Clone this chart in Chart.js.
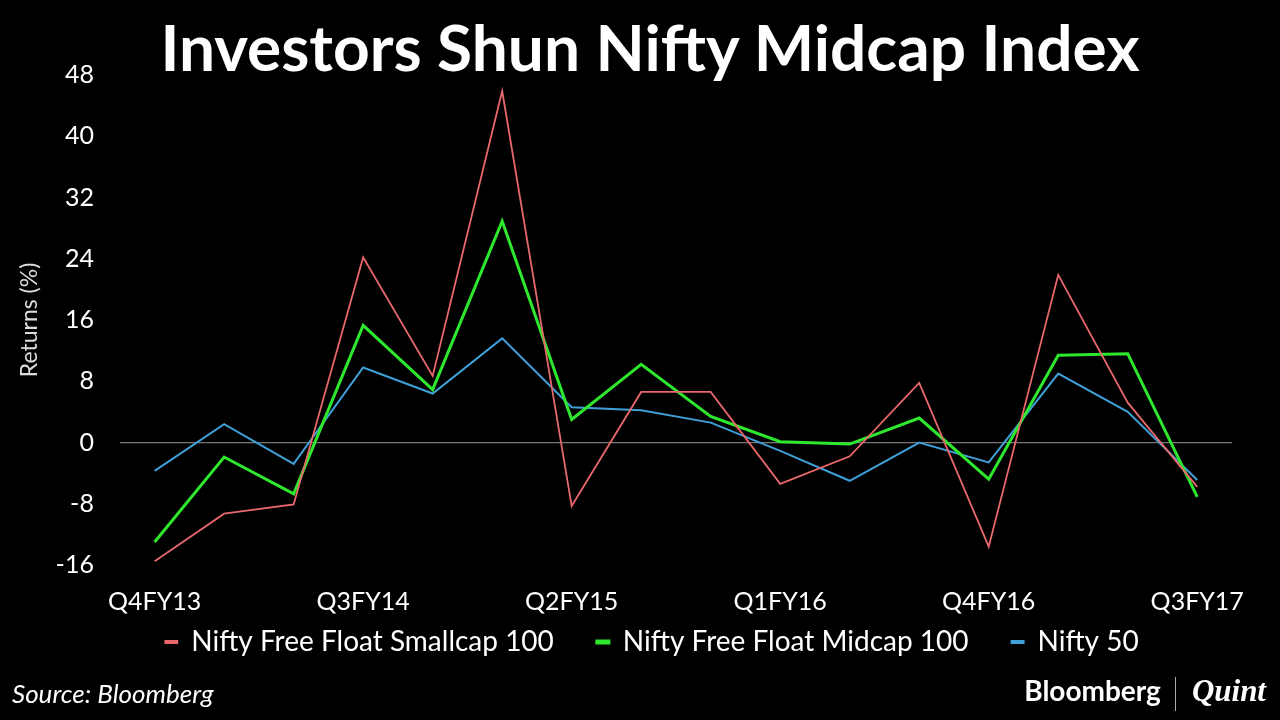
<!DOCTYPE html>
<html>
<head>
<meta charset="utf-8">
<script src="https://cdn.jsdelivr.net/npm/chart.js@4/dist/chart.umd.min.js"></script>
<style>
  body { margin: 0; background: #000; }
  #wrap { position: relative; width: 1280px; height: 720px; background: #000; }
  #returns-chart { position: absolute; left: 0; top: 0; }
  #title { position: absolute; left: 20px; width: 1260px; top: 8px; text-align: center; color: #fff;
           font: bold 64px Lato, sans-serif; line-height: 78px; }
  #source { position: absolute; left: 12px; top: 677px; color: #fff; font: italic 26px Lato, sans-serif; }
  #brand { position: absolute; right: 14px; top: 673px; color: #fff; font: bold 28px Lato, sans-serif; }
  #brand .sep { display: inline-block; width: 1px; height: 34px; background: #aaa; margin: 0 16px 0 14px; vertical-align: middle; }
  #brand .q { font: italic bold 31px "Liberation Serif", serif; }
</style>
</head>
<body>
<div id="wrap">
  <canvas id="returns-chart" width="1280" height="720"></canvas>
  <div id="title">Investors Shun Nifty Midcap Index</div>
  <div id="source">Source: Bloomberg</div>
  <div id="brand">Bloomberg<span class="sep"></span><span class="q">Quint</span></div>
</div>
<script>
const quarters = ["Q4FY13","Q1FY14","Q2FY14","Q3FY14","Q4FY14","Q1FY15","Q2FY15","Q3FY15",
                  "Q4FY15","Q1FY16","Q2FY16","Q3FY16","Q4FY16","Q1FY17","Q2FY17","Q3FY17"];
const smallcap = [-15.5,-9.3,-8.1,24.2,8.7,45.9,-8.3,6.6,6.6,-5.4,-1.8,7.8,-13.6,21.9,5.2,-5.8];
const midcap   = [-13.0,-1.9,-6.7,15.3,6.9,28.9,3.0,10.2,3.4,0.1,-0.2,3.2,-4.8,11.4,11.6,-7.1];
const nifty50  = [-3.7,2.4,-2.8,9.8,6.4,13.6,4.6,4.2,2.6,-1.1,-5.0,0.0,-2.6,9.0,4.0,-4.9];
const yTicks = [-16,-8,0,8,16,24,32,40,48];

// nudge the legend a little right, it is centred on the plot in the original
const legendShift = {
  id: 'legendShift',
  afterLayout(chart) { chart.legend.left += 56; }
};

const ctx = document.getElementById('returns-chart').getContext('2d');

const returnsChart = new Chart(ctx, {
  type: 'line',
  data: {
    labels: quarters,
    datasets: [{
      label: "Nifty Free Float Smallcap 100",
      data: smallcap,
      borderColor: '#e8686c',
      backgroundColor: '#e8686c',
      borderWidth: 1.8,
      pointRadius: 0,
      tension: 0
    },
    {
      label: "Nifty Free Float Midcap 100",
      data: midcap,
      borderColor: '#2ee82e',
      backgroundColor: '#2ee82e',
      borderWidth: 3,
      pointRadius: 0,
      tension: 0
    },
    {
      label: "Nifty 50",
      data: nifty50,
      borderColor: '#3f9fd6',
      backgroundColor: '#3f9fd6',
      borderWidth: 2,
      pointRadius: 0,
      tension: 0
    }]
  },
  options: {
    responsive: false,
    animation: false,
    layout: { padding: { left: 16, right: 48, top: 75, bottom: 54 } },
    scales: {
      x: {
        offset: true,
        grid: { display: false, drawTicks: false },
        border: { display: false },
        afterFit: function (axis) { axis.height -= 11; },
        ticks: {
          autoSkip: false,
          maxRotation: 0,
          color: '#fff',
          padding: 22,
          font: { family: 'Lato', size: 25 },
          callback: function (val, i) { return i % 3 === 0 ? quarters[i] : ''; }
        }
      },
      y: {
        min: -16,
        max: 48,
        afterBuildTicks: function (axis) { axis.ticks = yTicks.map(v => ({ value: v })); },
        border: { display: false },
        grid: {
          drawTicks: false,
          color: c => c.tick && c.tick.value === 0 ? '#777' : 'rgba(0,0,0,0)',
          lineWidth: 1.2
        },
        ticks: {
          color: '#fff',
          padding: 26,
          font: { family: 'Lato', size: 25 }
        },
        title: {
          display: true,
          text: 'Returns (%)',
          color: '#ddd',
          font: { family: 'Lato', size: 23 },
          padding: { top: 0, bottom: -14 }
        }
      }
    },
    plugins: {
      legend: {
        display: true,
        position: 'bottom',
        labels: {
          color: '#fff',
          font: { family: 'Lato', size: 28 },
          boxWidth: 12,
          boxHeight: 2,
          padding: 0,
          generateLabels: function (chart) {
            const items = Chart.defaults.plugins.legend.labels.generateLabels(chart);
            // wider gaps between the entries, like the original
            items.forEach((it, i) => { if (i < items.length - 1) it.text += '      '; });
            return items;
          }
        }
      },
      tooltip: { enabled: false }
    }
  },
  plugins: [legendShift]
});
</script>
</body>
</html>
